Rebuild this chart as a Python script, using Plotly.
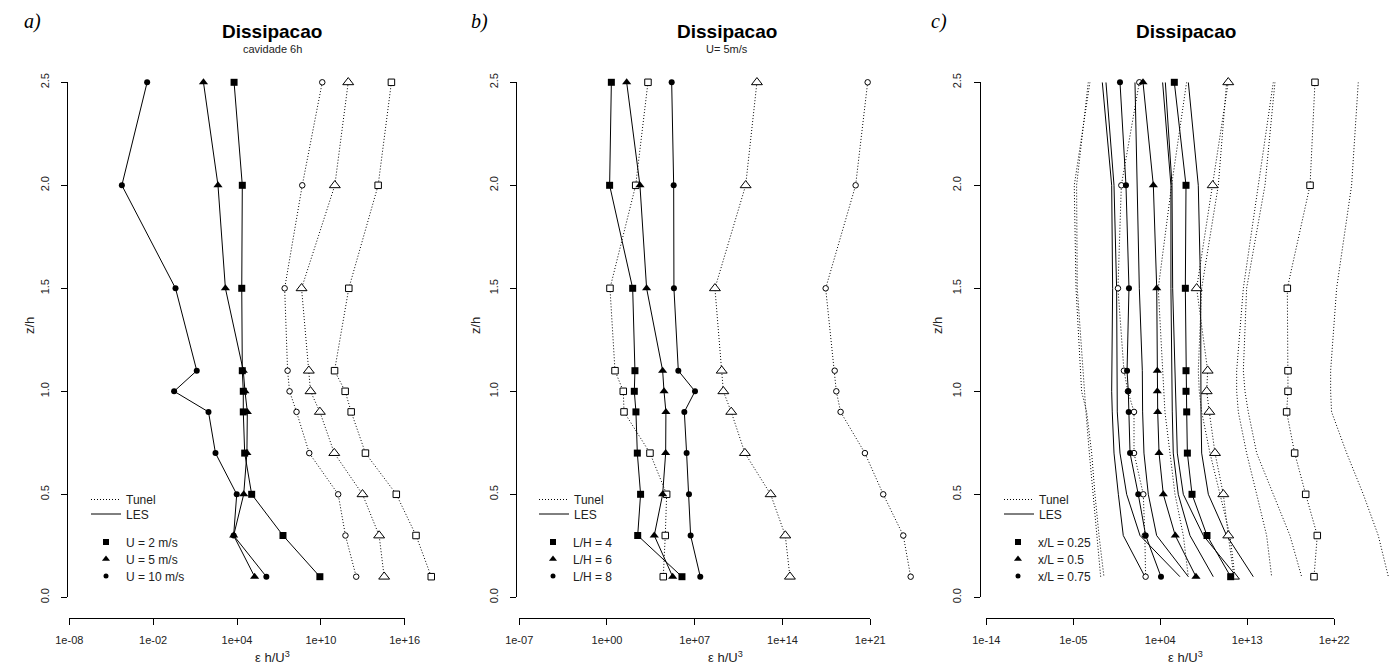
import plotly.graph_objects as go

W, H = 1399, 668

# ---------------- data (log10 of eps*h/U^3) ----------------
z = [2.5, 2.0, 1.5, 1.1, 1.0, 0.9, 0.7, 0.5, 0.3, 0.1]

# panel a) cavidade 6h
a_les_u2 = [3.79, 4.38, 4.34, 4.38, 4.45, 4.45, 4.55, 5.05, 7.29, 9.93]
a_les_u5 = [1.60, 2.64, 3.17, 4.45, 4.57, 4.74, 4.71, 4.48, 3.76, 5.26]
a_les_u10 = [-2.43, -4.24, -0.40, 1.12, -0.50, 1.96, 2.46, 3.98, 3.76, 6.10]
a_tun_u2 = [15.05, 14.10, 12.00, 10.98, 11.74, 12.17, 13.19, 15.40, 16.81, 17.90]
a_tun_u5 = [11.96, 11.00, 8.62, 9.14, 9.26, 9.93, 10.96, 12.98, 14.17, 14.53]
a_tun_u10 = [10.10, 8.67, 7.41, 7.62, 7.76, 8.26, 9.17, 11.24, 11.76, 12.53]

# panel b) U = 5 m/s
b_les_lh4 = [0.35, 0.21, 2.05, 2.23, 2.18, 2.31, 2.42, 2.68, 2.45, 5.98]
b_les_lh6 = [1.57, 2.63, 3.16, 4.44, 4.55, 4.70, 4.68, 4.44, 3.77, 5.24]
b_les_lh8 = [5.16, 5.32, 5.34, 5.69, 7.02, 6.17, 6.35, 6.54, 6.67, 7.44]
b_tun_lh4 = [3.27, 2.29, 0.24, 0.64, 1.30, 1.36, 3.43, 4.76, 4.65, 4.49]
b_tun_lh6 = [11.96, 11.06, 8.61, 9.15, 9.28, 9.91, 11.00, 13.05, 14.22, 14.59]
b_tun_lh8 = [20.79, 19.83, 17.44, 18.16, 18.29, 18.63, 20.57, 22.03, 23.63, 24.22]

# panel c) marked series
c_les_025 = [5.45, 6.66, 6.59, 6.66, 6.66, 6.73, 6.80, 7.28, 8.83, 11.28]
c_les_05 = [2.21, 3.28, 3.63, 3.69, 3.69, 3.73, 3.87, 4.31, 5.55, 7.69]
c_les_075 = [-0.17, 0.45, 0.76, 0.56, 0.69, 0.73, 0.87, 1.72, 2.49, 4.07]
c_tun_025 = [20.00, 19.49, 17.14, 17.21, 17.21, 17.07, 17.90, 19.04, 20.24, 19.90]
c_tun_05 = [11.03, 9.42, 7.76, 8.90, 8.80, 9.07, 9.66, 10.52, 11.03, 11.62]
c_tun_075 = [1.83, -0.03, -0.38, 0.24, 0.65, 1.28, 1.28, 2.24, 2.40, 2.48]
# panel c) unmarked profiles
c_tun_p1 = [-3.28, -4.90, -4.72, -4.31, -4.14, -3.62, -3.10, -2.76, -2.34, -1.83]
c_tun_p2 = [-3.45, -4.66, -4.59, -4.03, -3.90, -3.69, -3.34, -2.93, -2.52, -2.17]
c_tun_p3 = [6.72, 5.17, 3.79, 4.24, 4.31, 4.48, 5.00, 5.52, 6.38, 6.90]
c_tun_p4 = [10.86, 10.00, 8.28, 7.93, 8.03, 8.28, 9.14, 10.17, 11.21, 11.72]
c_tun_p5 = [15.69, 14.14, 12.59, 11.90, 11.90, 12.07, 12.93, 13.97, 15.00, 15.52]
c_tun_p6 = [15.86, 14.83, 12.93, 12.59, 12.76, 13.10, 13.97, 15.69, 17.41, 18.62]
c_tun_p7 = [24.48, 23.79, 22.24, 21.62, 21.62, 21.72, 23.28, 25.00, 26.55, 27.59]
c_les_p1 = [-2.00, -1.03, -0.93, -1.03, -1.03, -0.97, -0.79, -0.34, 0.17, 2.41]
c_les_p2 = [-1.62, -0.79, -0.52, -0.52, -0.52, -0.45, -0.17, 0.52, 1.90, 6.03]
c_les_p3 = [1.38, 1.62, 1.83, 2.14, 2.14, 2.17, 2.31, 2.76, 3.62, 6.90]
c_les_p4 = [4.24, 5.10, 5.10, 5.17, 5.17, 5.24, 5.34, 5.86, 7.07, 9.48]
c_les_p5 = [4.52, 5.21, 5.28, 5.52, 5.52, 5.62, 5.76, 6.38, 8.45, 11.90]
c_les_p6 = [6.90, 7.93, 8.17, 8.17, 8.17, 8.21, 8.28, 8.97, 10.86, 13.62]

z_ticks = [0.0, 0.5, 1.0, 1.5, 2.0, 2.5]
z_ticktext = ["0.0", "0.5", "1.0", "1.5", "2.0", "2.5"]
a_xticks = [-8, -2, 4, 10, 16]
a_xticktext = ["1e-08", "1e-02", "1e+04", "1e+10", "1e+16"]
b_xticks = [-7, 0, 7, 14, 21]
b_xticktext = ["1e-07", "1e+00", "1e+07", "1e+14", "1e+21"]
c_xticks = [-14, -5, 4, 13, 22]
c_xticktext = ["1e-14", "1e-05", "1e+04", "1e+13", "1e+22"]

titles = ["Dissipacao", "Dissipacao", "Dissipacao"]
subtitles = ["cavidade 6h", "U= 5m/s", ""]
panel_tags = ["a)", "b)", "c)"]
leg_a = ["U = 2 m/s", "U = 5 m/s", "U = 10 m/s"]
leg_b = ["L/H = 4", "L/H = 6", "L/H = 8"]
leg_c = ["x/L = 0.25", "x/L = 0.5", "x/L = 0.75"]

# ---------------- layout geometry (pixels in the screenshot) ----------------
FONT = "Liberation Sans, Arial, sans-serif"
Y_TOP, Y_BOT = 82.3, 597.3
XAX_Y = 617.7
DOT = "1px,2px"
PAGE_OFF = 8  # default body margin of the html page
LEG_ROWS = [499, 513.5, 541.5, 558.5, 575.5]

panels = [
    dict(dl=68.3, dr=476.0, t0=69.3, t1=404.7, ticks=a_xticks, text=a_xticktext,
         tx=272, xt=272, yl=29, tag_x=32, leg_line=86, leg_mark=86),
    dict(dl=517.0, dr=930.0, t0=519.2, t1=870.3, ticks=b_xticks, text=b_xticktext,
         tx=727, xt=725, yl=475, tag_x=479, leg_line=534, leg_mark=533),
    dict(dl=980.5, dr=1399.0, t0=986.3, t1=1334.3, ticks=c_xticks, text=c_xticktext,
         tx=1186, xt=1185, yl=937, tag_x=939, leg_line=999, leg_mark=998),
]


def fx(p):
    return (p - PAGE_OFF) / W


def fy(p):
    return 1 - (p - PAGE_OFF) / H


fig = go.Figure()

SYM = {"sq": ("square", 7, 6.5), "tr": ("triangle-up", 8, 9.5), "ci": ("circle", 6, 5.5)}


def add_series(idx, exps, kind, tunel, marker=True):
    ax = "" if idx == 0 else str(idx + 1)
    sym, fsize, osize = SYM.get(kind, ("circle", 6, 6))
    tr = dict(
        x=[10.0 ** e for e in exps], y=z,
        xaxis="x" + ax, yaxis="y" + ax,
        mode="lines+markers" if marker else "lines",
        line=dict(color="black", width=1, dash=DOT if tunel else "solid"),
        showlegend=False, hoverinfo="skip", cliponaxis=False,
    )
    if marker:
        if tunel:
            tr["marker"] = dict(symbol=sym, size=osize, color="white",
                                line=dict(color="black", width=1))
        else:
            tr["marker"] = dict(symbol=sym, size=fsize, color="black",
                                line=dict(width=0))
    fig.add_trace(go.Scatter(**tr))


# panel a
for s, k in [(a_tun_u2, "sq"), (a_tun_u5, "tr"), (a_tun_u10, "ci")]:
    add_series(0, s, k, True)
for s, k in [(a_les_u2, "sq"), (a_les_u5, "tr"), (a_les_u10, "ci")]:
    add_series(0, s, k, False)
# panel b
for s, k in [(b_tun_lh4, "sq"), (b_tun_lh6, "tr"), (b_tun_lh8, "ci")]:
    add_series(1, s, k, True)
for s, k in [(b_les_lh4, "sq"), (b_les_lh6, "tr"), (b_les_lh8, "ci")]:
    add_series(1, s, k, False)
# panel c
for s in [c_tun_p1, c_tun_p2, c_tun_p3, c_tun_p4, c_tun_p5, c_tun_p6, c_tun_p7]:
    add_series(2, s, None, True, marker=False)
for s in [c_les_p1, c_les_p2, c_les_p3, c_les_p4, c_les_p5, c_les_p6]:
    add_series(2, s, None, False, marker=False)
for s, k in [(c_tun_025, "sq"), (c_tun_05, "tr"), (c_tun_075, "ci")]:
    add_series(2, s, k, True)
for s, k in [(c_les_025, "sq"), (c_les_05, "tr"), (c_les_075, "ci")]:
    add_series(2, s, k, False)


def leg_name(n):
    return "legend" if n == 1 else "legend" + str(n)


# legends: one small legend per row so the rows can sit where R put them
leg_labels = [leg_a, leg_b, leg_c]
layout_legends = {}
for i, p in enumerate(panels):
    ax = "" if i == 0 else str(i + 1)
    rows = [("Tunel", "line_dot", None), ("LES", "line", None)] + \
           [(lab, "mark", k) for lab, k in zip(leg_labels[i], ["sq", "tr", "ci"])]
    for j, (lab, kind, k) in enumerate(rows):
        n = 5 * i + j + 1
        if kind == "mark":
            sym, fsize, _ = SYM[k]
            tr = go.Scatter(x=[None], y=[None], xaxis="x" + ax, yaxis="y" + ax,
                            mode="markers", name=lab, legend=leg_name(n),
                            marker=dict(symbol=sym, size=fsize - 1, color="black"))
            lx = p["leg_mark"]
        else:
            tr = go.Scatter(x=[None], y=[None], xaxis="x" + ax, yaxis="y" + ax,
                            mode="lines", name=lab, legend=leg_name(n),
                            line=dict(color="black", width=1,
                                      dash=DOT if kind == "line_dot" else "solid"))
            lx = p["leg_line"]
        fig.add_trace(tr)
        layout_legends[leg_name(n)] = dict(
            x=fx(lx), y=fy(LEG_ROWS[j] - 14), xanchor="left", yanchor="top",
            bgcolor="rgba(0,0,0,0)", borderwidth=0,
            font=dict(size=12, family=FONT, color="#222222"))
    # empty trace to register the decorative x axis
    fig.add_trace(go.Scatter(x=[], y=[], xaxis="x" + str(i + 4), yaxis="y" + ax,
                             showlegend=False, hoverinfo="skip"))

layout = dict(
    width=W, height=H,
    margin=dict(l=0, r=0, t=0, b=0, pad=0, autoexpand=False),
    autosize=False,
    paper_bgcolor="white", plot_bgcolor="rgba(0,0,0,0)",
    font=dict(family=FONT, color="black", size=11),
    showlegend=True,
)
layout.update(layout_legends)

annotations = []
for i, p in enumerate(panels):
    ax = "" if i == 0 else str(i + 1)
    ppd = (p["t1"] - p["t0"]) / (p["ticks"][-1] - p["ticks"][0])
    rng = [p["ticks"][0] + (p["dl"] - p["t0"]) / ppd,
           p["ticks"][0] + (p["dr"] - p["t0"]) / ppd]
    layout["xaxis" + ax] = dict(
        type="log", range=rng, domain=[fx(p["dl"]), fx(p["dr"])],
        anchor="y" + ax, showline=False, showgrid=False, zeroline=False,
        showticklabels=False, ticks="", fixedrange=True, automargin=False)
    layout["yaxis" + ax] = dict(
        range=[0, 2.5], domain=[fy(Y_BOT), fy(Y_TOP)], anchor="x" + ax,
        showline=True, linecolor="black", linewidth=1, showgrid=False,
        zeroline=False, ticks="outside", ticklen=6, tickcolor="black",
        tickwidth=1, tickvals=z_ticks, ticktext=z_ticktext, tickangle=-90,
        tickfont=dict(size=11, color="#222222"), ticklabelstandoff=8,
        fixedrange=True, automargin=False)
    layout["xaxis" + str(i + 4)] = dict(
        type="log", range=[p["ticks"][0], p["ticks"][-1]],
        domain=[fx(p["t0"]), fx(p["t1"])], anchor="free", position=fy(XAX_Y),
        showline=True, linecolor="black", linewidth=1, showgrid=False,
        zeroline=False, ticks="outside", ticklen=6, tickcolor="black",
        tickwidth=1, tickvals=[10.0 ** t for t in p["ticks"]], ticktext=p["text"],
        tickfont=dict(size=11, color="#222222"), ticklabelstandoff=6,
        fixedrange=True, automargin=False)

    annotations.append(dict(text="<b>" + titles[i] + "</b>", x=fx(p["tx"]), y=fy(31.5),
                            xref="paper", yref="paper", showarrow=False,
                            xanchor="center", yanchor="middle",
                            font=dict(size=19, family=FONT, color="black")))
    if subtitles[i]:
        annotations.append(dict(text=subtitles[i], x=fx(p["tx"]), y=fy(48.5),
                                xref="paper", yref="paper", showarrow=False,
                                xanchor="center", yanchor="middle",
                                font=dict(size=11, family=FONT, color="#222222")))
    annotations.append(dict(text="<i>" + panel_tags[i] + "</i>", x=fx(p["tag_x"]), y=fy(21),
                            xref="paper", yref="paper", showarrow=False,
                            xanchor="center", yanchor="middle",
                            font=dict(size=20, family="Liberation Serif, Times New Roman, serif",
                                      color="black")))
    annotations.append(dict(text="ε h/U<sup>3</sup>", x=fx(p["xt"]), y=fy(657),
                            xref="paper", yref="paper", showarrow=False,
                            xanchor="center", yanchor="middle",
                            font=dict(size=13, family=FONT, color="#222222")))
    annotations.append(dict(text="z/h", x=fx(p["yl"]), y=fy(326),
                            xref="paper", yref="paper", showarrow=False,
                            xanchor="center", yanchor="middle", textangle=-90,
                            font=dict(size=13, family=FONT, color="#222222")))

layout["annotations"] = annotations
fig.update_layout(**layout)
fig.write_html("out.html")
